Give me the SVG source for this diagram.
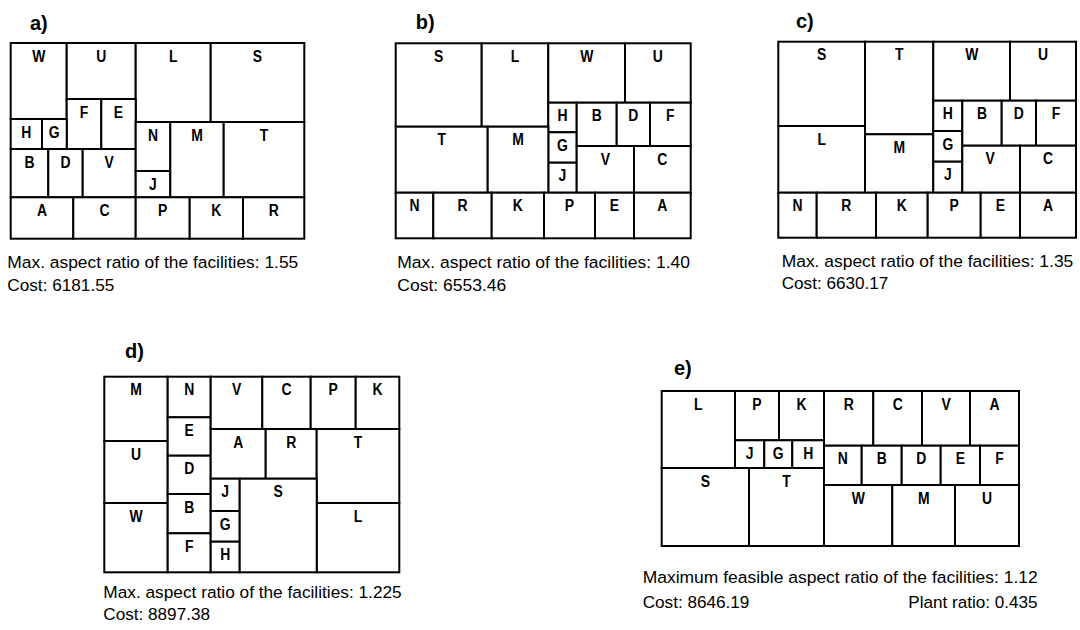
<svg xmlns="http://www.w3.org/2000/svg" width="1080" height="630" viewBox="0 0 1080 630">
<style>
.c{fill:#fff;stroke:#000;stroke-width:2}
.l{font-family:"Liberation Sans",Arial,sans-serif;font-weight:bold;font-size:17px;text-anchor:middle;fill:#000;transform-box:fill-box;transform-origin:center;transform:translateY(1.2px) scaleX(0.82)}
.t{font-family:"Liberation Sans",Arial,sans-serif;font-weight:bold;font-size:20px;fill:#000}
.cap{font-family:"Liberation Sans",Arial,sans-serif;font-size:16.3px;fill:#000}
</style>
<rect width="1080" height="630" fill="#fff"/>
<g id="panel-a">
<text class="t" x="30" y="30">a)</text>
<g id="a-W"><rect class="c" x="10.7" y="43" width="56" height="76"/><text class="l" x="38.7" y="60.5">W</text></g>
<g id="a-U"><rect class="c" x="66.7" y="43" width="69" height="56"/><text class="l" x="101.2" y="60.5">U</text></g>
<g id="a-L"><rect class="c" x="135.7" y="43" width="75" height="79"/><text class="l" x="173.2" y="60.5">L</text></g>
<g id="a-S"><rect class="c" x="210.7" y="43" width="93.6" height="79"/><text class="l" x="257.5" y="60.5">S</text></g>
<g id="a-F"><rect class="c" x="66.7" y="99" width="34.6" height="50"/><text class="l" x="84" y="116.5">F</text></g>
<g id="a-E"><rect class="c" x="101.3" y="99" width="34.4" height="50"/><text class="l" x="118.5" y="116.5">E</text></g>
<g id="a-H"><rect class="c" x="10.7" y="119" width="31.3" height="30"/><text class="l" x="26.3" y="136.5">H</text></g>
<g id="a-G"><rect class="c" x="42" y="119" width="24.7" height="30"/><text class="l" x="54.3" y="136.5">G</text></g>
<g id="a-B"><rect class="c" x="10.7" y="149" width="37.6" height="48.3"/><text class="l" x="29.5" y="166.5">B</text></g>
<g id="a-D"><rect class="c" x="48.3" y="149" width="34.4" height="48.3"/><text class="l" x="65.5" y="166.5">D</text></g>
<g id="a-V"><rect class="c" x="82.7" y="149" width="53" height="48.3"/><text class="l" x="109.2" y="166.5">V</text></g>
<g id="a-N"><rect class="c" x="135.7" y="122" width="34.6" height="49"/><text class="l" x="153" y="139.5">N</text></g>
<g id="a-J"><rect class="c" x="135.7" y="171" width="34.6" height="26.3"/><text class="l" x="153" y="188.5">J</text></g>
<g id="a-M"><rect class="c" x="170.3" y="122" width="53.4" height="75.3"/><text class="l" x="197" y="139.5">M</text></g>
<g id="a-T"><rect class="c" x="223.7" y="122" width="80.6" height="75.3"/><text class="l" x="264" y="139.5">T</text></g>
<g id="a-A"><rect class="c" x="10.7" y="197.3" width="62.6" height="41.4"/><text class="l" x="42" y="214.8">A</text></g>
<g id="a-C"><rect class="c" x="73.3" y="197.3" width="62.4" height="41.4"/><text class="l" x="104.5" y="214.8">C</text></g>
<g id="a-P"><rect class="c" x="135.7" y="197.3" width="54" height="41.4"/><text class="l" x="162.7" y="214.8">P</text></g>
<g id="a-K"><rect class="c" x="189.7" y="197.3" width="53.3" height="41.4"/><text class="l" x="216.3" y="214.8">K</text></g>
<g id="a-R"><rect class="c" x="243" y="197.3" width="61.3" height="41.4"/><text class="l" x="273.7" y="214.8">R</text></g>
<text class="cap" x="7.3" y="268.3" textLength="291" lengthAdjust="spacingAndGlyphs">Max. aspect ratio of the facilities: 1.55</text>
<text class="cap" x="7.3" y="291" textLength="107" lengthAdjust="spacingAndGlyphs">Cost: 6181.55</text>
</g>
<g id="panel-b">
<text class="t" x="415.7" y="28.5">b)</text>
<g id="b-S"><rect class="c" x="395.7" y="43.3" width="86" height="83.4"/><text class="l" x="438.7" y="60.8">S</text></g>
<g id="b-L"><rect class="c" x="481.7" y="43.3" width="66.6" height="83.4"/><text class="l" x="515" y="60.8">L</text></g>
<g id="b-W"><rect class="c" x="548.3" y="43.3" width="76.7" height="59.4"/><text class="l" x="586.7" y="60.8">W</text></g>
<g id="b-U"><rect class="c" x="625" y="43.3" width="65.7" height="59.4"/><text class="l" x="657.8" y="60.8">U</text></g>
<g id="b-H"><rect class="c" x="548.3" y="102.7" width="28.4" height="29.6"/><text class="l" x="562.5" y="120.2">H</text></g>
<g id="b-G"><rect class="c" x="548.3" y="132.3" width="28.4" height="30.4"/><text class="l" x="562.5" y="149.8">G</text></g>
<g id="b-J"><rect class="c" x="548.3" y="162.7" width="28.4" height="30"/><text class="l" x="562.5" y="180.2">J</text></g>
<g id="b-B"><rect class="c" x="576.7" y="102.7" width="40" height="43.3"/><text class="l" x="596.7" y="120.2">B</text></g>
<g id="b-D"><rect class="c" x="616.7" y="102.7" width="33.3" height="43.3"/><text class="l" x="633.3" y="120.2">D</text></g>
<g id="b-F"><rect class="c" x="650" y="102.7" width="40.7" height="43.3"/><text class="l" x="670.3" y="120.2">F</text></g>
<g id="b-V"><rect class="c" x="576.7" y="146" width="57.3" height="46.7"/><text class="l" x="605.3" y="163.5">V</text></g>
<g id="b-C"><rect class="c" x="634" y="146" width="56.7" height="46.7"/><text class="l" x="662.3" y="163.5">C</text></g>
<g id="b-T"><rect class="c" x="395.7" y="126.7" width="92" height="66"/><text class="l" x="441.7" y="144.2">T</text></g>
<g id="b-M"><rect class="c" x="487.7" y="126.7" width="60.6" height="66"/><text class="l" x="518" y="144.2">M</text></g>
<g id="b-N"><rect class="c" x="395.7" y="192.7" width="37.6" height="45.6"/><text class="l" x="414.5" y="210.2">N</text></g>
<g id="b-R"><rect class="c" x="433.3" y="192.7" width="58.4" height="45.6"/><text class="l" x="462.5" y="210.2">R</text></g>
<g id="b-K"><rect class="c" x="491.7" y="192.7" width="52.3" height="45.6"/><text class="l" x="517.8" y="210.2">K</text></g>
<g id="b-P"><rect class="c" x="544" y="192.7" width="51" height="45.6"/><text class="l" x="569.5" y="210.2">P</text></g>
<g id="b-E"><rect class="c" x="595" y="192.7" width="39" height="45.6"/><text class="l" x="614.5" y="210.2">E</text></g>
<g id="b-A"><rect class="c" x="634" y="192.7" width="56.7" height="45.6"/><text class="l" x="662.3" y="210.2">A</text></g>
<text class="cap" x="397.3" y="268" textLength="292.7" lengthAdjust="spacingAndGlyphs">Max. aspect ratio of the facilities: 1.40</text>
<text class="cap" x="397.3" y="290.7" textLength="109" lengthAdjust="spacingAndGlyphs">Cost: 6553.46</text>
</g>
<g id="panel-c">
<text class="t" x="796" y="28">c)</text>
<g id="c-S"><rect class="c" x="778.3" y="41.7" width="86.7" height="84.3"/><text class="l" x="821.7" y="59.2">S</text></g>
<g id="c-T"><rect class="c" x="865" y="41.7" width="68.3" height="92.6"/><text class="l" x="899.2" y="59.2">T</text></g>
<g id="c-W"><rect class="c" x="933.3" y="41.7" width="76.7" height="59"/><text class="l" x="971.7" y="59.2">W</text></g>
<g id="c-U"><rect class="c" x="1010" y="41.7" width="66" height="59"/><text class="l" x="1043" y="59.2">U</text></g>
<g id="c-L"><rect class="c" x="778.3" y="126" width="86.7" height="66.7"/><text class="l" x="821.7" y="143.5">L</text></g>
<g id="c-M"><rect class="c" x="865" y="134.3" width="68.3" height="58.4"/><text class="l" x="899.2" y="151.8">M</text></g>
<g id="c-H"><rect class="c" x="933.3" y="100.7" width="29" height="30.3"/><text class="l" x="947.8" y="118.2">H</text></g>
<g id="c-G"><rect class="c" x="933.3" y="131" width="29" height="30.7"/><text class="l" x="947.8" y="148.5">G</text></g>
<g id="c-J"><rect class="c" x="933.3" y="161.7" width="29" height="31"/><text class="l" x="947.8" y="179.2">J</text></g>
<g id="c-B"><rect class="c" x="962.3" y="100.7" width="39.4" height="45"/><text class="l" x="982" y="118.2">B</text></g>
<g id="c-D"><rect class="c" x="1001.7" y="100.7" width="34.3" height="45"/><text class="l" x="1018.8" y="118.2">D</text></g>
<g id="c-F"><rect class="c" x="1036" y="100.7" width="40" height="45"/><text class="l" x="1056" y="118.2">F</text></g>
<g id="c-V"><rect class="c" x="962.3" y="145.7" width="57.7" height="47"/><text class="l" x="990" y="163.2">V</text></g>
<g id="c-C"><rect class="c" x="1020" y="145.7" width="56" height="47"/><text class="l" x="1048" y="163.2">C</text></g>
<g id="c-N"><rect class="c" x="778.3" y="192.7" width="38.4" height="45"/><text class="l" x="797.5" y="210.2">N</text></g>
<g id="c-R"><rect class="c" x="816.7" y="192.7" width="59.3" height="45"/><text class="l" x="846.3" y="210.2">R</text></g>
<g id="c-K"><rect class="c" x="876" y="192.7" width="51.7" height="45"/><text class="l" x="901.8" y="210.2">K</text></g>
<g id="c-P"><rect class="c" x="927.7" y="192.7" width="53" height="45"/><text class="l" x="954.2" y="210.2">P</text></g>
<g id="c-E"><rect class="c" x="980.7" y="192.7" width="39.3" height="45"/><text class="l" x="1000.3" y="210.2">E</text></g>
<g id="c-A"><rect class="c" x="1020" y="192.7" width="56" height="45"/><text class="l" x="1048" y="210.2">A</text></g>
<text class="cap" x="781.7" y="266.7" textLength="291.6" lengthAdjust="spacingAndGlyphs">Max. aspect ratio of the facilities: 1.35</text>
<text class="cap" x="781.7" y="289.3" textLength="106.7" lengthAdjust="spacingAndGlyphs">Cost: 6630.17</text>
</g>
<g id="panel-d">
<text class="t" x="125" y="358">d)</text>
<g id="d-M"><rect class="c" x="104.3" y="376.7" width="63.4" height="64.3"/><text class="l" x="136" y="394.2">M</text></g>
<g id="d-U"><rect class="c" x="104.3" y="441" width="63.4" height="62"/><text class="l" x="136" y="458.5">U</text></g>
<g id="d-W"><rect class="c" x="104.3" y="503" width="63.4" height="69.3"/><text class="l" x="136" y="520.5">W</text></g>
<g id="d-N"><rect class="c" x="167.7" y="376.7" width="43" height="40.6"/><text class="l" x="189.2" y="394.2">N</text></g>
<g id="d-E"><rect class="c" x="167.7" y="417.3" width="43" height="38.4"/><text class="l" x="189.2" y="434.8">E</text></g>
<g id="d-D"><rect class="c" x="167.7" y="455.7" width="43" height="38.3"/><text class="l" x="189.2" y="473.2">D</text></g>
<g id="d-B"><rect class="c" x="167.7" y="494" width="43" height="39.3"/><text class="l" x="189.2" y="511.5">B</text></g>
<g id="d-F"><rect class="c" x="167.7" y="533.3" width="43" height="39"/><text class="l" x="189.2" y="550.8">F</text></g>
<g id="d-V"><rect class="c" x="210.7" y="376.7" width="51.6" height="52.3"/><text class="l" x="236.5" y="394.2">V</text></g>
<g id="d-C"><rect class="c" x="262.3" y="376.7" width="48.4" height="52.3"/><text class="l" x="286.5" y="394.2">C</text></g>
<g id="d-P"><rect class="c" x="310.7" y="376.7" width="45" height="52.3"/><text class="l" x="333.2" y="394.2">P</text></g>
<g id="d-K"><rect class="c" x="355.7" y="376.7" width="43.6" height="52.3"/><text class="l" x="377.5" y="394.2">K</text></g>
<g id="d-A"><rect class="c" x="210.7" y="429" width="55" height="49.7"/><text class="l" x="238.2" y="446.5">A</text></g>
<g id="d-R"><rect class="c" x="265.7" y="429" width="51" height="49.7"/><text class="l" x="291.2" y="446.5">R</text></g>
<g id="d-T"><rect class="c" x="316.7" y="429" width="82.6" height="74"/><text class="l" x="358" y="446.5">T</text></g>
<g id="d-L"><rect class="c" x="316.7" y="503" width="82.6" height="69.3"/><text class="l" x="358" y="520.5">L</text></g>
<g id="d-J"><rect class="c" x="210.7" y="478.7" width="29" height="32.3"/><text class="l" x="225.2" y="496.2">J</text></g>
<g id="d-G"><rect class="c" x="210.7" y="511" width="29" height="30.7"/><text class="l" x="225.2" y="528.5">G</text></g>
<g id="d-H"><rect class="c" x="210.7" y="541.7" width="29" height="30.6"/><text class="l" x="225.2" y="559.2">H</text></g>
<g id="d-S"><rect class="c" x="239.7" y="478.7" width="77" height="93.6"/><text class="l" x="278.2" y="496.2">S</text></g>
<text class="cap" x="103.3" y="598.3" textLength="298.4" lengthAdjust="spacingAndGlyphs">Max. aspect ratio of the facilities: 1.225</text>
<text class="cap" x="103.3" y="620" textLength="106.7" lengthAdjust="spacingAndGlyphs">Cost: 8897.38</text>
</g>
<g id="panel-e">
<text class="t" x="674" y="375">e)</text>
<g id="e-L"><rect class="c" x="661.7" y="391" width="73.3" height="77"/><text class="l" x="698.3" y="408.5">L</text></g>
<g id="e-P"><rect class="c" x="735" y="391" width="44" height="49.3"/><text class="l" x="757" y="408.5">P</text></g>
<g id="e-K"><rect class="c" x="779" y="391" width="45" height="49.3"/><text class="l" x="801.5" y="408.5">K</text></g>
<g id="e-J"><rect class="c" x="735" y="440.3" width="29.3" height="27.7"/><text class="l" x="749.7" y="457.8">J</text></g>
<g id="e-G"><rect class="c" x="764.3" y="440.3" width="28" height="27.7"/><text class="l" x="778.3" y="457.8">G</text></g>
<g id="e-H"><rect class="c" x="792.3" y="440.3" width="31.7" height="27.7"/><text class="l" x="808.2" y="457.8">H</text></g>
<g id="e-R"><rect class="c" x="824" y="391" width="49.3" height="54.7"/><text class="l" x="848.7" y="408.5">R</text></g>
<g id="e-C"><rect class="c" x="873.3" y="391" width="48.7" height="54.7"/><text class="l" x="897.7" y="408.5">C</text></g>
<g id="e-V"><rect class="c" x="922" y="391" width="48" height="54.7"/><text class="l" x="946" y="408.5">V</text></g>
<g id="e-A"><rect class="c" x="970" y="391" width="49" height="54.7"/><text class="l" x="994.5" y="408.5">A</text></g>
<g id="e-N"><rect class="c" x="824" y="445.7" width="37.7" height="39.3"/><text class="l" x="842.8" y="463.2">N</text></g>
<g id="e-B"><rect class="c" x="861.7" y="445.7" width="40" height="39.3"/><text class="l" x="881.7" y="463.2">B</text></g>
<g id="e-D"><rect class="c" x="901.7" y="445.7" width="39" height="39.3"/><text class="l" x="921.2" y="463.2">D</text></g>
<g id="e-E"><rect class="c" x="940.7" y="445.7" width="39.3" height="39.3"/><text class="l" x="960.3" y="463.2">E</text></g>
<g id="e-F"><rect class="c" x="980" y="445.7" width="39" height="39.3"/><text class="l" x="999.5" y="463.2">F</text></g>
<g id="e-S"><rect class="c" x="661.7" y="468" width="87.3" height="78"/><text class="l" x="705.3" y="485.5">S</text></g>
<g id="e-T"><rect class="c" x="749" y="468" width="75" height="78"/><text class="l" x="786.5" y="485.5">T</text></g>
<g id="e-W"><rect class="c" x="824" y="485" width="68.3" height="61"/><text class="l" x="858.2" y="502.5">W</text></g>
<g id="e-M"><rect class="c" x="892.3" y="485" width="62.7" height="61"/><text class="l" x="923.7" y="502.5">M</text></g>
<g id="e-U"><rect class="c" x="955" y="485" width="64" height="61"/><text class="l" x="987" y="502.5">U</text></g>
<text class="cap" x="642.7" y="583.3" textLength="395" lengthAdjust="spacingAndGlyphs">Maximum feasible aspect ratio of the facilities: 1.12</text>
<text class="cap" x="642.7" y="608.3" textLength="106.7" lengthAdjust="spacingAndGlyphs">Cost: 8646.19</text>
<text class="cap" x="908.3" y="608.3" textLength="129.3" lengthAdjust="spacingAndGlyphs">Plant ratio: 0.435</text>
</g>
</svg>
